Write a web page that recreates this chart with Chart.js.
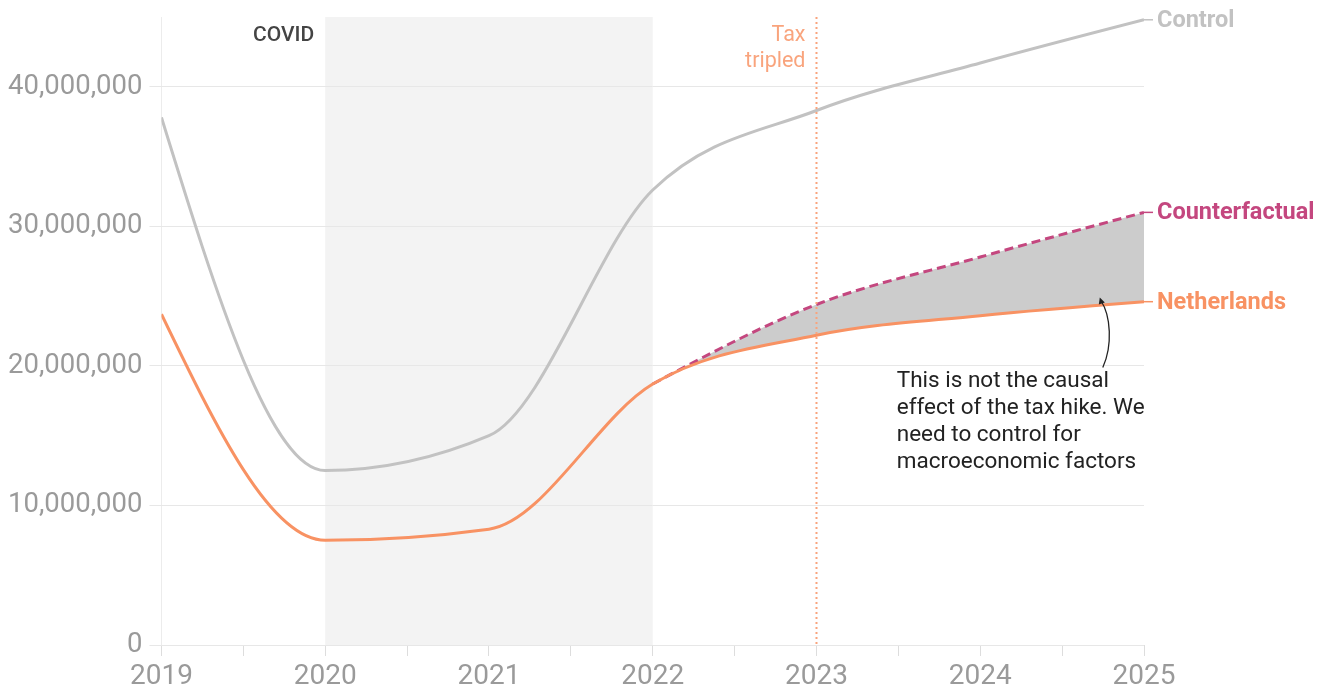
<!DOCTYPE html>
<html>
<head>
<meta charset="utf-8">
<script src="https://cdn.jsdelivr.net/npm/chart.js@4.4.1/dist/chart.umd.min.js"></script>
<style>
  html, body { margin: 0; padding: 0; background: #fff; }
</style>
</head>
<body>
<canvas id="chart" width="1334" height="688"></canvas>
<script>
// yearly values
const years = [2019, 2020, 2021, 2022, 2023, 2024, 2025];
const controlValues = [37800000, 12500000, 15000000, 32600000, 38300000, 41700000, 44800000];
const netherlandsValues = [23700000, 7500000, 8300000, 18700000, 22200000, 23600000, 24600000];
const counterfactualYears = [2022, 2023, 2024, 2025];
const counterfactualValues = [18700000, 24400000, 27800000, 31000000];
const yTicks = [0, 10000000, 20000000, 30000000, 40000000];
const covidSpan = [2020, 2022];
const taxYear = 2023;

const GREY = '#c2c2c2';
const ORANGE = '#f89263';
const MAGENTA = '#c4477f';
const TAX = '#f9a47d';

Chart.defaults.font.family = 'Roboto';

function toPoints(xs, ys) {
  return xs.map((x, i) => ({ x: x, y: ys[i] }));
}

// d3-style monotoneX tangents (Steffen), written into chart.js bezier control points
function monotoneX(points) {
  const n = points.length;
  if (n < 3) return;
  const h = [], s = [], t = [];
  for (let i = 0; i < n - 1; i++) {
    h[i] = points[i + 1].x - points[i].x;
    s[i] = (points[i + 1].y - points[i].y) / h[i];
  }
  const sign = v => v < 0 ? -1 : 1;
  for (let i = 1; i < n - 1; i++) {
    const p = (s[i - 1] * h[i] + s[i] * h[i - 1]) / (h[i - 1] + h[i]);
    t[i] = (sign(s[i - 1]) + sign(s[i])) * Math.min(Math.abs(s[i - 1]), Math.abs(s[i]), 0.5 * Math.abs(p)) || 0;
  }
  t[0] = (3 * s[0] - t[1]) / 2;
  t[n - 1] = (3 * s[n - 2] - t[n - 2]) / 2;
  points.forEach((pt, i) => {
    if (i > 0) { const d = h[i - 1] / 3; pt.cp1x = pt.x - d; pt.cp1y = pt.y - d * t[i]; }
    if (i < n - 1) { const d = h[i] / 3; pt.cp2x = pt.x + d; pt.cp2y = pt.y + d * t[i]; }
  });
}

const curvePlugin = {
  id: 'curves',
  beforeDatasetsDraw(chart) {
    chart.getSortedVisibleDatasetMetas().forEach(meta => {
      meta.dataset.updateControlPoints(chart.chartArea, 'x');
      monotoneX(meta.data);
    });
  }
};

const backdropPlugin = {
  id: 'backdrop',
  beforeDraw(chart) {
    const { ctx, chartArea, scales } = chart;
    const x0 = scales.x.getPixelForValue(covidSpan[0]);
    const x1 = scales.x.getPixelForValue(covidSpan[1]);
    ctx.save();
    ctx.fillStyle = '#f3f3f3';
    ctx.fillRect(x0, chartArea.top, x1 - x0, chartArea.bottom - chartArea.top);
    ctx.restore();
  }
};

const notesPlugin = {
  id: 'notes',
  afterDatasetsDraw(chart) {
    const { ctx, chartArea, scales } = chart;
    const xs = scales.x, ys = scales.y;

    // tax line
    const tx = xs.getPixelForValue(taxYear);
    ctx.save();
    ctx.strokeStyle = TAX;
    ctx.lineWidth = 2;
    ctx.setLineDash([2, 3]);
    ctx.beginPath();
    ctx.moveTo(tx, chartArea.top);
    ctx.lineTo(tx, chartArea.bottom);
    ctx.stroke();
    ctx.restore();

    ctx.save();
    ctx.textBaseline = 'middle';
    ctx.textAlign = 'right';
    ctx.fillStyle = TAX;
    ctx.font = '21.5px Roboto';
    ctx.fillText('Tax', tx - 11, chartArea.top + 19);
    ctx.fillText('tripled', tx - 11, chartArea.top + 45);

    const cx = xs.getPixelForValue(covidSpan[0]);
    ctx.fillStyle = '#444';
    ctx.font = '500 21px Roboto';
    ctx.fillText('COVID', cx - 11, chartArea.top + 19);

    // series labels at line ends
    ctx.textAlign = 'left';
    ctx.font = 'bold 23.5px Roboto';
    const names = ['Netherlands', 'Counterfactual', 'Control'];
    const colors = [ORANGE, MAGENTA, GREY];
    names.forEach((name, i) => {
      const meta = chart.getDatasetMeta(i);
      const last = meta.data[meta.data.length - 1];
      ctx.strokeStyle = colors[i];
      ctx.lineWidth = 1.5;
      ctx.beginPath();
      ctx.moveTo(last.x, last.y);
      ctx.lineTo(last.x + 9, last.y);
      ctx.stroke();
      ctx.fillStyle = colors[i];
      ctx.fillText(name, last.x + 13, last.y + 1);
    });

    // annotation
    const ax = xs.getPixelForValue(2023.49);
    const ay = ys.getPixelForValue(18900000);
    ctx.fillStyle = '#222';
    ctx.font = '22.5px Roboto';
    ['This is not the causal', 'effect of the tax hike. We', 'need to control for', 'macroeconomic factors']
      .forEach((line, i) => ctx.fillText(line, ax, ay + i * 27));

    const px = xs.getPixelForValue(2024.73);
    const py = ys.getPixelForValue(24900000);
    ctx.strokeStyle = '#222';
    ctx.lineWidth = 1.3;
    ctx.beginPath();
    ctx.moveTo(px + 3, py + 70);
    ctx.bezierCurveTo(px + 13, py + 48, px + 11, py + 18, px + 1, py + 3);
    ctx.stroke();
    ctx.fillStyle = '#222';
    ctx.beginPath();
    ctx.moveTo(px, py);
    ctx.lineTo(px + 5, py + 5);
    ctx.lineTo(px - 1, py + 7);
    ctx.closePath();
    ctx.fill();
    ctx.restore();
  }
};

const chart = new Chart(document.getElementById('chart'), {
  type: 'line',
  data: {
    datasets: [
      {
        label: 'Netherlands',
        data: toPoints(years, netherlandsValues),
        borderColor: ORANGE,
        borderWidth: 3,
        pointRadius: 0,
        cubicInterpolationMode: 'monotone',
        fill: false
      },
      {
        label: 'Counterfactual',
        data: toPoints(counterfactualYears, counterfactualValues),
        borderColor: MAGENTA,
        borderWidth: 3,
        borderDash: [9, 5],
        pointRadius: 0,
        cubicInterpolationMode: 'monotone',
        fill: { target: 0, above: '#cccccc', below: 'rgba(0,0,0,0)' }
      },
      {
        label: 'Control',
        data: toPoints(years, controlValues),
        borderColor: GREY,
        borderWidth: 3,
        pointRadius: 0,
        cubicInterpolationMode: 'monotone',
        fill: false
      }
    ]
  },
  options: {
    responsive: false,
    animation: false,
    devicePixelRatio: 1,
    layout: { padding: { left: 1, right: 190, top: 17, bottom: 0 } },
    plugins: {
      legend: { display: false },
      tooltip: { enabled: false }
    },
    scales: {
      x: {
        type: 'linear',
        min: 2019,
        max: 2025,
        border: { display: false },
        afterFit: s => { s.height = 43; },
        grid: {
          color: c => (c.tick && c.tick.value === 2019) ? '#ececec' : 'rgba(0,0,0,0)',
          tickColor: '#dddddd',
          tickLength: 11
        },
        ticks: {
          stepSize: 0.5,
          autoSkip: false,
          maxRotation: 0,
          color: '#9a9a9a',
          font: { size: 28, lineHeight: 0.95 },
          padding: 8,
          callback: v => Number.isInteger(v) ? String(v) : ''
        }
      },
      y: {
        min: 0,
        max: 45000000,
        border: { display: false },
        afterBuildTicks: s => { s.ticks = yTicks.map(v => ({ value: v })); },
        afterFit: s => { s.paddingTop = 0; s.paddingBottom = 0; },
        grid: { color: '#e7e7e7', tickColor: '#e7e7e7', tickLength: 12 },
        ticks: {
          color: '#9a9a9a',
          font: { size: 27.5 },
          padding: 7,
          callback: v => Number(v).toLocaleString('en-US')
        }
      }
    }
  },
  plugins: [backdropPlugin, curvePlugin, notesPlugin]
});
</script>
</body>
</html>
